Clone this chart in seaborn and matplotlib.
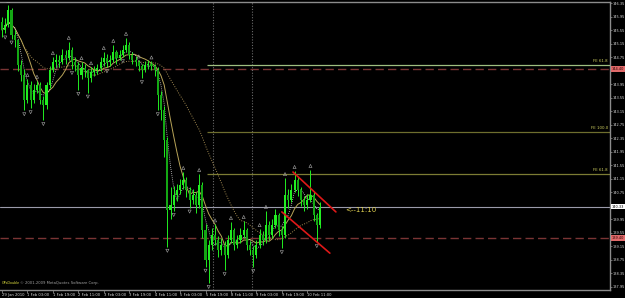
import numpy as np
import pandas as pd
import matplotlib
matplotlib.use("Agg")
import matplotlib.pyplot as plt
import matplotlib.transforms as mtransforms
import seaborn as sns

# ---------------- data ----------------
first_open = 145.80
closes = [145.55, 145.70, 146.14, 145.40, 145.26, 144.52, 144.22, 143.48, 143.92, 143.48,
          143.78, 143.92, 143.48, 143.33, 143.92, 144.37, 144.60, 144.66, 144.60, 144.81,
          144.72, 144.96, 144.60, 144.52, 144.22, 144.43, 144.37, 144.13, 144.31, 144.37,
          144.43, 144.60, 144.72, 144.60, 144.66, 144.90, 144.72, 144.81, 144.96, 145.11,
          144.81, 144.66, 144.60, 144.49, 144.37, 144.52, 144.55, 144.49, 144.37, 143.63,
          143.18, 142.30, 140.23, 140.37, 140.67, 140.82, 140.97, 141.11, 140.82, 140.52,
          140.67, 140.37, 140.97, 139.63, 138.75, 139.19, 139.49, 139.34, 139.04, 139.19,
          138.89, 139.34, 139.63, 139.19, 139.34, 139.49, 139.63, 139.19, 139.04, 138.89,
          139.19, 139.49, 139.34, 139.78, 139.49, 139.78, 140.08, 139.63, 139.49, 140.67,
          140.52, 140.82, 141.11, 140.82, 140.52, 140.37, 140.52, 140.67, 140.08, 139.78,
          140.33]
highs = [145.95, 145.90, 146.29, 146.20, 145.55, 145.30, 144.65, 144.40, 144.10, 144.05,
         143.95, 144.05, 144.00, 143.60, 144.00, 144.50, 144.75, 144.85, 144.80, 145.00,
         144.95, 145.20, 145.05, 144.75, 144.60, 144.60, 144.55, 144.40, 144.45, 144.50,
         144.55, 144.75, 144.90, 144.85, 144.80, 145.11, 144.95, 144.95, 145.10, 145.32,
         145.20, 144.90, 144.78, 144.65, 144.55, 144.62, 144.65, 144.62, 144.55, 144.45,
         143.75, 143.30, 142.40, 140.90, 140.95, 141.00, 141.15, 141.35, 141.20, 140.90,
         140.85, 140.75, 141.29, 141.05, 139.80, 139.35, 139.70, 139.80, 139.45, 139.40,
         139.30, 139.50, 139.87, 139.70, 139.50, 139.70, 139.90, 139.70, 139.30, 139.15,
         139.35, 139.66, 139.60, 140.20, 139.90, 139.95, 140.25, 140.15, 139.75, 141.17,
         140.85, 141.00, 141.38, 141.20, 140.90, 140.65, 140.70, 141.41, 140.75, 140.15,
         140.45]
lows = [145.35, 145.45, 145.65, 145.30, 145.05, 144.35, 144.05, 143.18, 143.40, 143.24,
        143.40, 143.70, 143.35, 142.89, 143.20, 143.85, 144.30, 144.45, 144.45, 144.55,
        144.55, 144.65, 144.40, 144.35, 143.78, 144.10, 144.15, 143.70, 144.00, 144.20,
        144.25, 144.35, 144.50, 144.45, 144.50, 144.60, 144.55, 144.65, 144.75, 144.90,
        144.70, 144.55, 144.50, 144.35, 144.13, 144.30, 144.40, 144.38, 144.20, 143.18,
        142.90, 141.80, 139.14, 139.95, 140.20, 140.50, 140.70, 140.85, 140.60, 140.30,
        140.40, 140.15, 140.30, 139.40, 138.55, 138.07, 139.05, 139.20, 138.85, 138.90,
        138.45, 138.80, 139.25, 139.05, 139.10, 139.25, 139.40, 139.05, 138.90, 138.54,
        138.80, 139.10, 139.20, 139.25, 139.35, 139.40, 139.70, 139.45, 139.10, 139.40,
        140.30, 140.45, 140.75, 140.65, 140.35, 140.20, 140.25, 140.45, 139.90, 139.28,
        139.70]
up_fractal_bars = [2, 8, 11, 16, 21, 25, 28, 32, 35, 39, 43, 47, 57, 62, 67, 72, 76, 81, 83, 89, 92, 97]
down_fractal_bars = [1, 3, 7, 9, 13, 22, 24, 27, 33, 38, 44, 49, 52, 54, 59, 64, 65, 70, 79, 88, 99]

time_labels = ["29 Jan 2010", "1 Feb 03:00", "1 Feb 19:00", "2 Feb 11:00", "3 Feb 03:00",
               "3 Feb 19:00", "4 Feb 11:00", "5 Feb 03:00", "5 Feb 19:00", "8 Feb 11:00",
               "9 Feb 03:00", "9 Feb 19:00", "10 Feb 11:00"]
time_label_bars = [0, 8, 16, 24, 32, 40, 48, 56, 64, 72, 80, 88, 96]

price_tick_labels = ["146.35", "145.95", "145.55", "145.15", "144.75", "144.35", "143.95",
                     "143.55", "143.15", "142.75", "142.35", "141.95", "141.55", "141.15",
                     "140.75", "140.35", "139.95", "139.55", "139.15", "138.75", "138.35",
                     "137.95"]
covered_tick_labels = ["144.35", "140.35"]   # hidden under the price boxes

fe_names = ["FE 61.8", "FE 100.0", "FE 61.8"]
fe_prices = [144.52, 142.53, 141.29]
fe_colors = ["#9fbf80", "#6e6e2e", "#7c7c34"]
fe_start_bar = 64.5
red_levels = [144.40, 139.40]
red_level_labels = ["144.40", "139.40"]
current_price = 140.33
current_label = "140.33"
vline_bars = [66.4, 78.6]
channel_upper = ([91.5, 105.0], [141.35, 140.17])
channel_lower = ([88.0, 103.1], [140.17, 138.95])
note_text = "<--11:10"
note_pos = (107.9, 140.23)

# ---------------- frame ----------------
sns.set_theme(style="dark")
plt.rcParams["font.family"] = ["DejaVu Sans"]
W, H = 625, 298
fig = plt.figure(figsize=(W / 100, H / 100), dpi=100, facecolor="black")
ax = fig.add_axes([0, 8 / H, 610 / W, (290 - 2) / H])
ax.set_facecolor("black")

n = len(closes)
opens = [first_open] + closes[:-1]
df = pd.DataFrame({"bar": np.arange(n), "open": opens, "close": closes,
                   "high": highs, "low": lows})
df["ma_fast"] = df["close"].rolling(4, min_periods=1).mean()
df["ma_mid"] = df["close"].rolling(8, min_periods=1).mean()
df["ma_slow"] = df["close"].rolling(24, min_periods=1).mean()

# level lines
for p in red_levels:
    ax.axhline(p, color="#7a3434", lw=1.0, ls=(0, (6, 3)), zorder=1)
ax.axhline(current_price, color="#9a9aaa", lw=0.8, zorder=1)
for xb in vline_bars:
    ax.axvline(xb, color="#6a6a6a", lw=0.8, ls=(0, (1, 1.5)), zorder=1)
for name, p, c in zip(fe_names, fe_prices, fe_colors):
    ax.hlines(p, fe_start_bar, 200, color=c, lw=0.9, zorder=1)
    ax.text(190.6, p + 0.05, name, color="#d0d060", fontsize=2.8, ha="right", va="bottom", zorder=5)

# moving averages
sns.lineplot(data=df, x="bar", y="ma_slow", ax=ax, color="#a08850", lw=0.7, ls=(0, (1, 1.5)), zorder=2)
sns.lineplot(data=df, x="bar", y="ma_mid", ax=ax, color="#b8a458", lw=0.7, zorder=2)
sns.lineplot(data=df, x="bar", y="ma_fast", ax=ax, color="#d8d8d8", lw=0.6, ls=(0, (1, 1.5)), zorder=2)

# candles
green = "#22ee22"
ax.vlines(df["bar"], df["low"], df["high"], color=green, lw=0.7, zorder=3)
body_lo = np.minimum(df["open"], df["close"])
body_h = np.maximum(np.abs(df["close"] - df["open"]), 0.02)
bull = df["close"] >= df["open"]
ax.bar(df["bar"][bull], body_h[bull], bottom=body_lo[bull], width=0.66, color=green, lw=0, zorder=4)
ax.bar(df["bar"][~bull], body_h[~bull], bottom=body_lo[~bull], width=0.66, color="#14a814", lw=0, zorder=4)

# fractals
ax.scatter(up_fractal_bars, [highs[i] + 0.12 for i in up_fractal_bars], marker="^", s=5,
           facecolors="none", edgecolors="#a8a8a8", linewidths=0.4, zorder=5)
ax.scatter(down_fractal_bars, [lows[i] - 0.12 for i in down_fractal_bars], marker="v", s=5,
           facecolors="none", edgecolors="#a8a8a8", linewidths=0.4, zorder=5)

# channel
ax.plot(*channel_upper, color="#e01818", lw=1.2, zorder=6)
ax.plot(*channel_lower, color="#e01818", lw=1.2, zorder=6)
ax.text(note_pos[0], note_pos[1], note_text, color="#e0d050", fontsize=5, ha="left", va="center", zorder=6)

# axes
ax.set_xlim(-0.63, 191.2)
ax.set_ylim(137.86, 146.38)
ax.set_xlabel("")
ax.set_ylabel("")
ax.grid(False)
price_vals = [float(s) for s in price_tick_labels]
ax.yaxis.tick_right()
ax.set_yticks(price_vals)
ax.set_yticklabels(price_tick_labels)
for lab in ax.get_yticklabels():
    if lab.get_text() in covered_tick_labels:
        lab.set_visible(False)
ax.set_xticks(time_label_bars)
ax.set_xticklabels(time_labels)
for lab in ax.get_xticklabels():
    lab.set_horizontalalignment("left")
ax.tick_params(axis="y", colors="#9a9a9a", labelcolor="#d8d8d8", labelsize=2.5, length=1.5, width=0.5, pad=0.6, right=True, left=False)
ax.tick_params(axis="x", colors="#9a9a9a", labelcolor="#d8d8d8", labelsize=2.7, length=2, width=0.5, pad=0.5, bottom=True)
for s in ["right", "bottom", "top"]:
    ax.spines[s].set_visible(True)
    ax.spines[s].set_color("#8c8c8c")
    ax.spines[s].set_linewidth(1.0)
ax.spines["left"].set_visible(False)

# price boxes on the axis
blend = mtransforms.blended_transform_factory(ax.transAxes, ax.transData)
for p, lab in zip(red_levels, red_level_labels):
    ax.text(1.003, p, lab, transform=blend, fontsize=2.5, color="#300000", ha="left", va="center",
            bbox=dict(fc="#e06a6a", ec="none", pad=0.6), clip_on=False, zorder=10)
ax.text(1.003, current_price, current_label, transform=blend, fontsize=2.5, color="black", ha="left",
        va="center", bbox=dict(fc="white", ec="none", pad=0.6), clip_on=False, zorder=10)

# footer
fig.text(2 / W, 1 - 283 / H, "GPsDouble", color="#e0e040", fontsize=2.4, ha="left", va="center")
fig.text(20 / W, 1 - 283 / H, "\u00a9 2001-2009 MetaQuotes Software Corp.", color="#a0a0a0",
         fontsize=2.7, ha="left", va="center")

fig.savefig("out.png", dpi=100, facecolor="black")
